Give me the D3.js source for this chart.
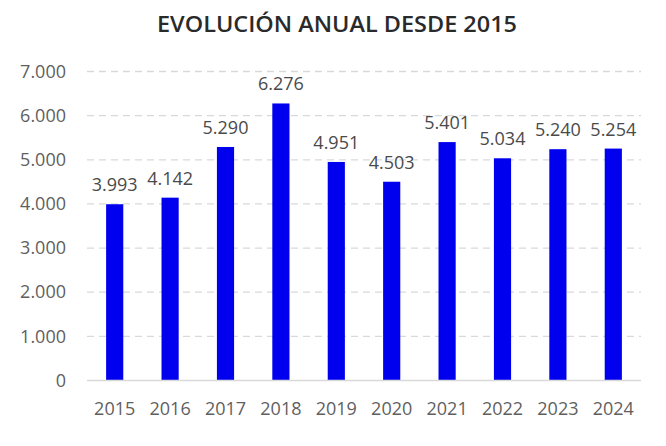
<!DOCTYPE html>
<html><head><meta charset="utf-8">
<script src="https://cdn.jsdelivr.net/npm/d3@7"></script>
<style>
html,body{margin:0;padding:0;background:#fff;}
svg{display:block;font-family:"Open Sans",sans-serif;}
</style></head>
<body>
<svg id="chart" width="666" height="446"></svg>
<script>
const title = "EVOLUCIÓN ANUAL DESDE 2015";
const years = ["2015","2016","2017","2018","2019","2020","2021","2022","2023","2024"];
const values = [3993,4142,5290,6276,4951,4503,5401,5034,5240,5254];
const yTicks = [0,1000,2000,3000,4000,5000,6000,7000];

const svg = d3.select("#chart");
const fmt = v => d3.format(",")(v).replace(/,/g,".");
const x = d3.scaleBand().domain(years).range([87,641]).paddingInner(0.69).paddingOuter(0.345);
const y = d3.scaleLinear().domain([0,7000]).range([380.5,71.5]);

svg.append("text").attr("x",337).attr("y",32).attr("text-anchor","middle")
  .attr("font-size",21).attr("font-weight",600).attr("fill","#2a2a2a")
  .attr("textLength",360).attr("lengthAdjust","spacingAndGlyphs")
  .text(title);

const yAxis = d3.axisLeft(y).tickValues(yTicks).tickSize(0).tickPadding(21).tickFormat(fmt);
const gy = svg.append("g").attr("transform","translate(87,0)").call(yAxis);
gy.select(".domain").remove();
gy.selectAll("text").attr("font-size",18).attr("fill","#5f5f5f").attr("font-family","Open Sans, sans-serif");
svg.append("g").selectAll("line").data(yTicks.filter(d=>d>0)).join("line")
  .attr("x1",87).attr("x2",641).attr("y1",d=>y(d)).attr("y2",d=>y(d))
  .attr("stroke","#d9d9d9").attr("stroke-width",1.3).attr("stroke-dasharray","7,5");

svg.append("g").selectAll("rect").data(values).join("rect")
  .attr("x",(d,i)=>x(years[i])).attr("width",x.bandwidth())
  .attr("y",d=>y(d)).attr("height",d=>y(0)-y(d)).attr("fill","#0000ee");

svg.append("line").attr("x1",87).attr("x2",641).attr("y1",y(0)).attr("y2",y(0))
  .attr("stroke","#d9d9d9").attr("stroke-width",1.5);

const xAxis = d3.axisBottom(x).tickSize(0).tickPadding(22);
const gx = svg.append("g").attr("transform",`translate(0,${y(0)})`).call(xAxis);
gx.select(".domain").remove();
gx.selectAll("text").attr("font-size",18).attr("fill","#5f5f5f").attr("font-family","Open Sans, sans-serif");

svg.append("g").selectAll("text").data(values).join("text")
  .attr("x",(d,i)=>x(years[i])+x.bandwidth()/2).attr("y",d=>y(d)-13)
  .attr("text-anchor","middle").attr("font-size",18).attr("fill","#4a4a4a")
  .text(fmt);
</script>
</body></html>
